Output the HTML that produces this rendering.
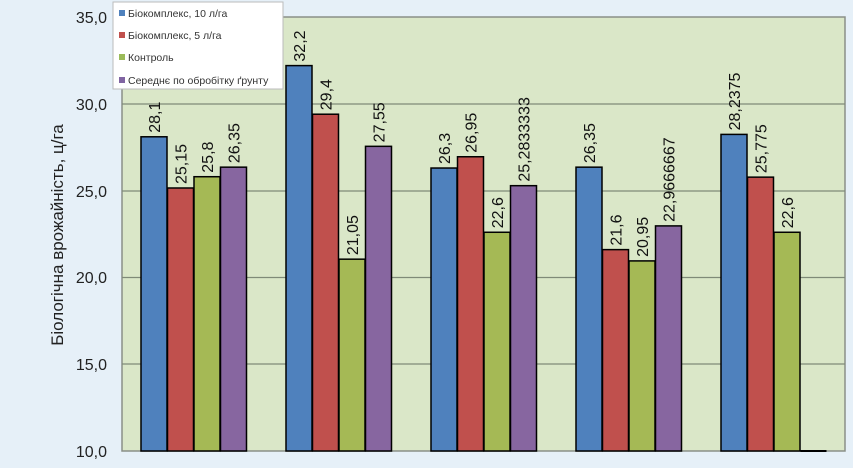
<!DOCTYPE html>
<html><head><meta charset="utf-8"><style>
html,body{margin:0;padding:0;background:#e6f0f8;width:853px;height:468px;overflow:hidden}
svg{display:block;font-family:"Liberation Sans",sans-serif}
</style></head><body>
<svg id="s" width="853" height="468" xmlns="http://www.w3.org/2000/svg">
<rect x="0" y="0" width="853" height="468" fill="#e6f0f8"/>
<rect x="122" y="17" width="723" height="434" fill="#dae7c8" stroke="#8a8f88" stroke-width="1.5"/>
<g stroke="#7f8a78" stroke-width="1.2">
<line x1="122" x2="845" y1="104" y2="104"/>
<line x1="122" x2="845" y1="191" y2="191"/>
<line x1="122" x2="845" y1="277.5" y2="277.5"/>
<line x1="122" x2="845" y1="364" y2="364"/>
</g>
<g font-size="16" fill="#222" text-anchor="end">
<text x="107" y="23">35,0</text>
<text x="107" y="110">30,0</text>
<text x="107" y="197">25,0</text>
<text x="107" y="283">20,0</text>
<text x="107" y="370">15,0</text>
<text x="107" y="457">10,0</text>
</g>
<text transform="translate(63,235) rotate(-90)" font-size="17" fill="#222" text-anchor="middle">Біологічна врожайність, ц/га</text>
<g id="bars"></g>
<rect x="113" y="2" width="170" height="87" fill="#fff" stroke="#bbb"/>
<g font-size="10.5" fill="#333">
<rect x="119" y="10" width="6" height="6" fill="#4f81bd"/><text x="128" y="17">Біокомплекс, 10 л/га</text>
<rect x="119" y="32" width="6" height="6" fill="#c0504d"/><text x="128" y="39">Біокомплекс, 5 л/га</text>
<rect x="119" y="54" width="6" height="6" fill="#9bbb59"/><text x="128" y="61">Контроль</text>
<rect x="119" y="77" width="6" height="6" fill="#8064a2"/><text x="128" y="84">Середнє по обробітку ґрунту</text>
</g>
</svg>
<script>
var d=[["28,1","25,15","25,8","26,35"],["32,2","29,4","21,05","27,55"],["26,3","26,95","22,6","25,2833333"],["26,35","21,6","20,95","22,9666667"],["28,2375","25,775","22,6",null]];
var c=["#4f81bd","#c0504d","#a5b955","#8766a0"];
var g=document.getElementById("bars"),h="";
function Y(v){return 451-(v-10)*86.8/5;}
for(var i=0;i<5;i++){for(var j=0;j<4;j++){var x=141+i*145+j*26.5;var s=d[i][j];
if(s===null){h+='<line x1="'+x+'" x2="'+(x+26)+'" y1="451" y2="451" stroke="#000" stroke-width="2"/>';continue;}
var v=parseFloat(s.replace(",","."));var y=Y(v);
h+='<rect x="'+x+'" y="'+y+'" width="26" height="'+(451-y)+'" fill="'+c[j]+'" stroke="#000" stroke-width="1.5"/>';
h+='<text transform="translate('+(x+19)+','+(y-4)+') rotate(-90)" font-size="16" fill="#111">'+s+'</text>';}}
g.innerHTML=h;
</script>
</body></html>
